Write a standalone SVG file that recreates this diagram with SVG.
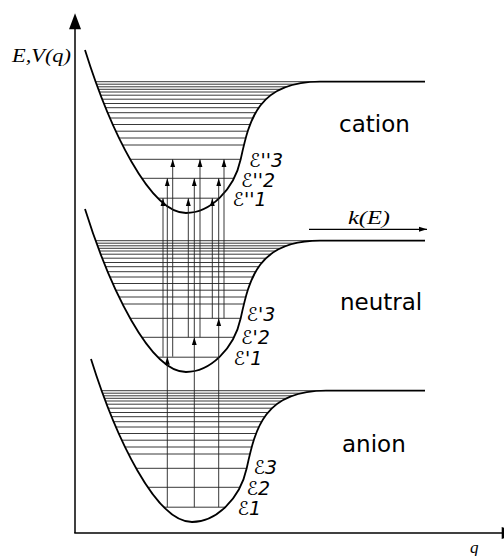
<svg xmlns="http://www.w3.org/2000/svg" xmlns:xlink="http://www.w3.org/1999/xlink" width="504" height="556" viewBox="0 0 504 556">
<style>
.curve{fill:none;stroke:#000;stroke-width:1.8}
.lev{stroke:#222;stroke-width:0.9}
.axis{stroke:#000;stroke-width:1.5;fill:none}
.tr{stroke:#222;stroke-width:0.9;fill:none;marker-end:url(#ah)}
.state{font-family:"DejaVu Sans","Noto Sans",sans-serif;font-size:23px;fill:#000}
.eps{font-family:"DejaVu Sans","Noto Sans",sans-serif;font-size:19px;font-style:italic;fill:#000}
.math{font-family:"Liberation Serif","DejaVu Serif",serif;font-style:italic;fill:#000}
</style>
<defs>
<marker id="ah" markerUnits="userSpaceOnUse" markerWidth="10" markerHeight="8" viewBox="0 -4 10 8" refX="8" refY="0" orient="auto">
<path d="M0,-2.5 L8,0 L0,2.5 Z" fill="#000"/>
</marker>
<clipPath id="well">
<path d="M85,50 C110,130 150,213 186,213 C210,213 234,190 240.7,159.3 C249.4,119.4 258,81.7 320,81.7 L430,81.7 L430,40 L85,40 Z"/>
</clipPath>
<g id="levels">
<line class="lev" x1="80" x2="330" y1="81.7" y2="81.7"/>
<line class="lev" x1="80" x2="330" y1="84.2" y2="84.2"/>
<line class="lev" x1="80" x2="330" y1="86.8" y2="86.8"/>
<line class="lev" x1="80" x2="330" y1="89.3" y2="89.3"/>
<line class="lev" x1="80" x2="330" y1="92" y2="92"/>
<line class="lev" x1="80" x2="330" y1="95.2" y2="95.2"/>
<line class="lev" x1="80" x2="330" y1="99.2" y2="99.2"/>
<line class="lev" x1="80" x2="330" y1="103.5" y2="103.5"/>
<line class="lev" x1="80" x2="330" y1="107.7" y2="107.7"/>
<line class="lev" x1="80" x2="330" y1="112.7" y2="112.7"/>
<line class="lev" x1="80" x2="330" y1="118" y2="118"/>
<line class="lev" x1="80" x2="330" y1="124.5" y2="124.5"/>
<line class="lev" x1="80" x2="330" y1="131.2" y2="131.2"/>
<line class="lev" x1="80" x2="330" y1="138" y2="138"/>
<line class="lev" x1="80" x2="330" y1="145" y2="145"/>
<line class="lev" x1="80" x2="330" y1="159.3" y2="159.3"/>
<line class="lev" x1="80" x2="330" y1="178.3" y2="178.3"/>
<line class="lev" x1="80" x2="330" y1="198.2" y2="198.2"/>
</g>
</defs>
<rect width="504" height="556" fill="#fff"/>

<g id="axes">
<line class="axis" x1="75" y1="533" x2="75" y2="26"/>
<path d="M75,13.3 L81,29.3 L69,29.3 Z" fill="#000"/>
<line class="axis" x1="74.25" y1="533" x2="505" y2="533"/>
<path d="M517.7,533 L501.7,527 L501.7,539 Z" fill="#000"/>
<text class="math" x="12" y="61.5" font-size="18" textLength="59" lengthAdjust="spacingAndGlyphs">E,V(q)</text>
<text class="math" x="470" y="553" font-size="17">q</text>
</g>

<g id="cation">
<g clip-path="url(#well)"><use xlink:href="#levels"/></g>
<path class="curve" d="M85,50 C110,130 150,213 186,213 C210,213 234,190 240.7,159.3 C249.4,119.4 258,81.7 320,81.7 L425,81.7"/>
<text class="state" x="339" y="132">cation</text>
<text class="eps" x="249" y="167">ℰ''3</text>
<text class="eps" x="241" y="186.5">ℰ''2</text>
<text class="eps" x="232.5" y="206">ℰ''1</text>
</g>

<g id="neutral">
<g transform="translate(0,159)"><g clip-path="url(#well)"><use xlink:href="#levels"/></g></g>
<path class="curve" d="M85,209 C110,289 150,372 186,372 C210,372 234,349 240.7,318.3 C249.4,278.4 258,240.7 320,240.7 L425,240.7"/>
<text class="state" x="340" y="310">neutral</text>
<text class="eps" x="246.5" y="321">ℰ'3</text>
<text class="eps" x="241" y="344">ℰ'2</text>
<text class="eps" x="233.5" y="365">ℰ'1</text>
</g>

<g id="anion">
<g transform="translate(6,309)"><g clip-path="url(#well)"><use xlink:href="#levels"/></g></g>
<path class="curve" d="M91,359 C116,439 156,522 192,522 C216,522 240,499 246.7,468.3 C255.4,428.4 264,390.7 326,390.7 L425,390.7"/>
<text class="state" x="342" y="452">anion</text>
<text class="eps" x="253.5" y="474">ℰ3</text>
<text class="eps" x="246.5" y="495">ℰ2</text>
<text class="eps" x="237.5" y="515">ℰ1</text>
</g>

<g id="connectors">
<line class="tr" x1="167.3" y1="507.2" x2="167.3" y2="356.7"/>
<line class="tr" x1="194.3" y1="507.2" x2="194.3" y2="337.3"/>
<line class="tr" x1="218.7" y1="507.2" x2="218.7" y2="318.3"/>
<line class="tr" x1="163" y1="356.7" x2="163" y2="198.2"/>
<line class="tr" x1="167.3" y1="356.7" x2="167.3" y2="178.3"/>
<line class="tr" x1="172.7" y1="356.7" x2="172.7" y2="159.3"/>
<line class="tr" x1="188.3" y1="337.3" x2="188.3" y2="198.2"/>
<line class="tr" x1="194.3" y1="337.3" x2="194.3" y2="178.3"/>
<line class="tr" x1="200" y1="337.3" x2="200" y2="159.3"/>
<line class="tr" x1="212.3" y1="318.3" x2="212.3" y2="198.2"/>
<line class="tr" x1="218.7" y1="318.3" x2="218.7" y2="178.3"/>
<line class="tr" x1="224" y1="318.3" x2="224" y2="159.3"/>
<line x1="309" y1="229.3" x2="427" y2="229.3" stroke="#000" stroke-width="1.2" marker-end="url(#ah)"/>
<text class="math" x="348" y="224" font-size="18" textLength="42" lengthAdjust="spacingAndGlyphs">k(E)</text>
</g>
</svg>
